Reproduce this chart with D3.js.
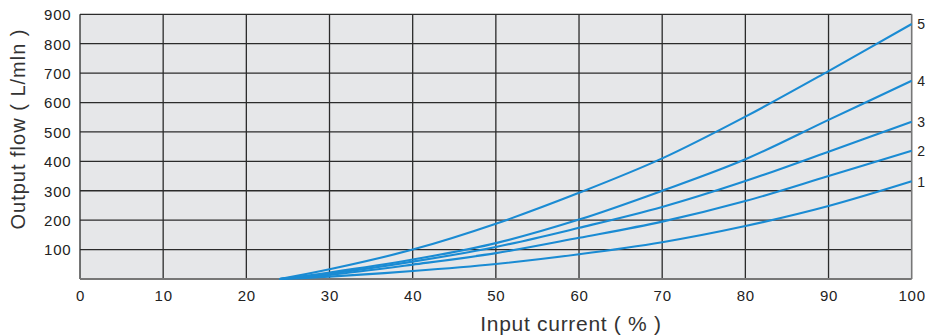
<!DOCTYPE html>
<html>
<head>
<meta charset="utf-8">
<script src="https://cdn.jsdelivr.net/npm/d3@7/dist/d3.min.js"></script>
<style>
  html, body { margin: 0; padding: 0; background: #fff; overflow: hidden; }
  svg { display: block; font-family: "Liberation Sans", Arial, Helvetica, sans-serif; }
</style>
</head>
<body>
<svg id="chart" width="925" height="335"></svg>
<script>
// Input current (%) sample points shared by every curve
const currentPct = [24, 30, 40, 50, 60, 70, 80, 90, 100];

// Output flow (L/min) for each valve size
const flow1 = [0, 8, 27, 51, 84, 125, 180, 248, 332];
const flow2 = [0, 14, 49, 88, 140, 195, 265, 350, 436];
const flow3 = [0, 18, 59, 109, 174, 245, 333, 433, 535];
const flow4 = [0, 22, 66, 122, 202, 300, 407, 541, 674];
const flow5 = [0, 33, 100, 188, 293, 410, 552, 707, 867];

const seriesNames = ["1", "2", "3", "4", "5"];
const seriesValues = [flow1, flow2, flow3, flow4, flow5];

const xTicks = [0, 10, 20, 30, 40, 50, 60, 70, 80, 90, 100];
const yTicks = [100, 200, 300, 400, 500, 600, 700, 800, 900];

const xTitle = "Input current ( % )";
const yTitle = "Output flow ( L/mln )";

const svg = d3.select("#chart");
const plotL = 80, plotR = 911.7, plotT = 14.3, plotB = 279;

const x = d3.scaleLinear().domain([0, 100]).range([plotL, plotR]);
const y = d3.scaleLinear().domain([0, 900]).range([plotB, plotT]);

// plot background
svg.append("rect")
  .attr("x", plotL).attr("y", plotT)
  .attr("width", plotR - plotL).attr("height", plotB - plotT)
  .attr("fill", "#e6e7e9");

// grid
const grid = svg.append("g").attr("stroke", "#2b2b2b").attr("stroke-width", 1.3);
grid.selectAll("line.v").data(xTicks.filter(d => d > 0 && d < 100)).join("line")
  .attr("class", "v")
  .attr("x1", d => x(d)).attr("x2", d => x(d))
  .attr("y1", plotT).attr("y2", plotB);
grid.selectAll("line.h").data(yTicks.filter(d => d < 900)).join("line")
  .attr("class", "h")
  .attr("x1", plotL).attr("x2", plotR)
  .attr("y1", d => y(d)).attr("y2", d => y(d));

// frame
svg.append("line").attr("x1", plotL).attr("x2", plotR).attr("y1", plotT).attr("y2", plotT)
  .attr("stroke", "#2b2b2b").attr("stroke-width", 1.3);
svg.append("line").attr("x1", plotL).attr("x2", plotL).attr("y1", plotT).attr("y2", plotB)
  .attr("stroke", "#2b2b2b").attr("stroke-width", 1.3);
svg.append("line").attr("x1", plotR).attr("x2", plotR).attr("y1", plotT).attr("y2", plotB)
  .attr("stroke", "#777").attr("stroke-width", 1.6);
svg.append("line").attr("x1", plotL).attr("x2", plotR).attr("y1", plotB).attr("y2", plotB)
  .attr("stroke", "#777").attr("stroke-width", 2);

// curves
const line = d3.line()
  .x((d, i) => x(currentPct[i]))
  .y(d => y(d))
  .curve(d3.curveCatmullRom.alpha(0.5));

svg.append("g").selectAll("path").data(seriesValues).join("path")
  .attr("d", d => line(d))
  .attr("fill", "none")
  .attr("stroke", "#1a8bd3")
  .attr("stroke-width", 2.1);

// end-of-curve labels
svg.append("g").selectAll("text").data(seriesValues).join("text")
  .attr("x", plotR + 5.5)
  .attr("y", d => y(d[d.length - 1]) + 5.2)
  .attr("font-size", 14)
  .attr("fill", "#222")
  .text((d, i) => seriesNames[i]);

// x axis
const xAxis = d3.axisBottom(x).tickValues(xTicks).tickSize(0).tickPadding(0);
const gx = svg.append("g").attr("transform", `translate(0,${plotB})`).call(xAxis);
gx.select(".domain").remove();
gx.selectAll("text")
  .attr("y", 21.7).attr("dy", null)
  .attr("font-size", 15).attr("letter-spacing", 0.8)
  .attr("font-family", "Liberation Sans, Arial, sans-serif")
  .attr("fill", "#222");

// y axis
const yAxis = d3.axisLeft(y).tickValues(yTicks).tickSize(0).tickPadding(0);
const gy = svg.append("g").attr("transform", `translate(${plotL},0)`).call(yAxis);
gy.select(".domain").remove();
gy.selectAll("text")
  .attr("x", -8.5).attr("dy", "0.36em")
  .attr("font-size", 15).attr("letter-spacing", 0.8)
  .attr("font-family", "Liberation Sans, Arial, sans-serif")
  .attr("fill", "#222");

// axis titles
svg.append("text")
  .attr("x", 571).attr("y", 331)
  .attr("text-anchor", "middle")
  .attr("font-size", 21).attr("letter-spacing", 0.7)
  .attr("fill", "#333")
  .text(xTitle);

svg.append("text")
  .attr("transform", "translate(25,129) rotate(-90)")
  .attr("text-anchor", "middle")
  .attr("font-size", 20).attr("letter-spacing", 1)
  .attr("fill", "#333")
  .text(yTitle);
</script>
</body>
</html>
